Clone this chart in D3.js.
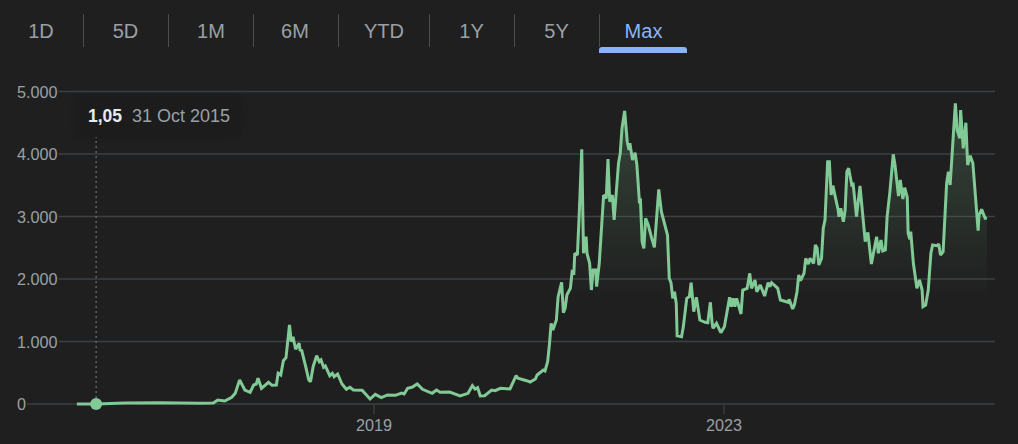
<!DOCTYPE html>
<html>
<head>
<meta charset="utf-8">
<script src="https://cdn.jsdelivr.net/npm/d3@7"></script>
<style>
  html, body { margin: 0; padding: 0; background: #1f1f1f; overflow: hidden; }
  svg { display: block; font-family: "Liberation Sans", Arial, sans-serif; }
</style>
</head>
<body>
<script>
var ranges = ["1D", "5D", "1M", "6M", "YTD", "1Y", "5Y", "Max"];
var activeRange = "Max";
var yTicks = [0, 1000, 2000, 3000, 4000, 5000];
var xTicks = [2019, 2023];
var hoverYear = 2015.83;
var hoverValue = 1.05;
var hoverDate = "31 Oct 2015";

// decimal years
var years = [2015.61,2015.83,2016.16,2016.56,2017.02,2017.17,2017.22,2017.30,2017.38,2017.42,2017.47,2017.53,2017.59,2017.63,2017.66,2017.68,2017.72,2017.80,2017.84,2017.89,2017.91,2017.94,2017.97,
  2018.00,2018.04,2018.06,2018.08,2018.11,2018.15,2018.16,2018.18,2018.23,2018.26,2018.28,2018.31,2018.35,2018.38,2018.40,2018.43,2018.45,2018.50,2018.53,2018.55,2018.59,2018.64,2018.69,2018.73,2018.77,2018.87,2018.96,
  2019.02,2019.09,2019.16,2019.25,2019.32,2019.35,2019.39,2019.44,2019.50,2019.56,2019.67,2019.72,2019.76,2019.87,2019.99,
  2020.08,2020.13,2020.16,2020.19,2020.22,2020.27,2020.35,2020.39,2020.45,2020.56,2020.63,2020.65,2020.75,2020.79,2020.85,2020.87,2020.94,2020.96,2020.99,
  2021.01,2021.03,2021.05,2021.09,2021.11,2021.15,2021.17,2021.19,2021.21,2021.25,2021.27,2021.29,2021.30,2021.33,2021.35,2021.38,2021.40,2021.43,2021.44,2021.47,2021.49,2021.51,2021.54,2021.55,2021.58,2021.63,2021.66,2021.68,2021.70,2021.73,2021.75,2021.80,2021.82,2021.84,2021.87,2021.90,2021.92,2021.93,2021.96,2021.99,
  2022.01,2022.04,2022.05,2022.07,2022.09,2022.11,2022.14,2022.18,2022.21,2022.26,2022.29,2022.36,2022.38,2022.40,2022.42,2022.44,2022.46,2022.47,2022.52,2022.54,2022.58,2022.61,2022.63,2022.66,2022.69,2022.73,2022.79,2022.82,2022.85,2022.87,2022.88,2022.92,2022.97,
  2023.01,2023.07,2023.09,2023.11,2023.13,2023.15,2023.20,2023.22,2023.27,2023.30,2023.32,2023.36,2023.38,2023.42,2023.47,2023.51,2023.53,2023.55,2023.62,2023.65,2023.74,2023.75,2023.79,2023.81,2023.84,2023.86,2023.88,2023.92,2023.94,2023.97,2023.99,
  2024.03,2024.05,2024.07,2024.09,2024.12,2024.14,2024.16,2024.19,2024.21,2024.23,2024.25,2024.31,2024.32,2024.34,2024.37,2024.39,2024.41,2024.43,2024.47,2024.48,2024.52,2024.56,2024.62,2024.65,2024.69,2024.75,2024.77,2024.80,2024.82,2024.85,2024.87,2024.90,2024.94,2024.96,
  2025.00,2025.02,2025.05,2025.07,2025.10,2025.11,2025.13,2025.14,2025.17,2025.21,2025.24,2025.27,2025.28,2025.31,2025.34,2025.37,2025.39,2025.44,2025.46,2025.48,2025.51,2025.55,2025.57,2025.59,2025.65,2025.67,2025.70,2025.71,2025.74,2025.77,2025.79,2025.82,2025.85,2025.91,2025.92,2025.95,2025.99,2026.01];

var prices = [1,1.05,16,21,11,16,64,48,107,171,384,224,187,304,320,411,251,347,299,304,491,464,693,
  741,1264,997,1077,875,971,864,853,571,384,357,597,773,677,704,587,608,453,491,437,480,320,235,267,224,219,80,
  155,101,144,139,176,160,251,267,320,235,171,224,187,192,128,
  171,293,240,261,128,133,224,213,251,240,453,411,373,352,400,464,544,528,677,
  944,1291,1184,1344,1717,1947,1461,1531,1744,1851,2117,2101,2411,2384,2997,4075,2411,2677,2411,2251,1824,2144,2144,1877,2251,3344,3291,3920,3237,3344,2944,3851,4011,4411,4688,4197,4064,4171,3904,4021,
  3824,3211,3291,2597,2491,2971,2864,2651,2507,3435,3077,2704,2011,1941,1691,1797,1611,1093,1077,1227,1691,1717,1941,1477,1707,1344,1307,1301,1627,1291,1211,1291,1141,
  1237,1707,1557,1691,1557,1691,1440,1824,1851,2091,1851,1984,1797,1904,1728,1941,1877,1941,1851,1664,1627,1675,1520,1584,1797,2064,1973,2091,2331,2240,2331,
  2251,2544,2491,2224,2331,2811,2944,3877,3877,3344,3493,3104,2997,3131,2917,3104,3717,3771,3477,3541,2997,3488,2597,2747,2240,2677,2411,2624,2448,2464,2997,3371,3995,3824,
  3328,3584,3280,3461,3307,2731,2635,2757,2251,1851,1984,1824,1557,1584,1824,2411,2544,2533,2560,2384,2437,3531,3717,3504,4811,4384,4251,4704,4091,4501,3824,3973,3851,2773,3024,3115,2971,2971];

var width = 1018, height = 444;
var lineColor = "#81c995", gridColor = "#3c4043", textColor = "#9aa0a6", blue = "#8ab4f8";

var x = d3.scaleLinear().domain([2019, 2023]).range([373.5, 723.5]);
var y = d3.scaleLinear().domain([0, 5000]).range([404, 91.5]);
var fmt = d3.formatLocale({ decimal: ",", thousands: ".", grouping: [3], currency: ["", ""] }).format(",d");

var svg = d3.select("body").append("svg").attr("width", width).attr("height", height);
var points = years.map(function (d, i) { return [d, prices[i]]; });

// range tabs
var tabs = d3.scaleOrdinal().domain(ranges).range([41, 125.5, 211, 295, 384, 471.5, 556.5, 643.5]);
var seps = d3.scaleOrdinal().domain(ranges.slice(1)).range([83.5, 168.5, 253.5, 338.5, 429.5, 514.5, 599.5]);

svg.selectAll(".sep").data(ranges.slice(1)).enter().append("line")
  .attr("class", "sep")
  .attr("x1", seps).attr("x2", seps)
  .attr("y1", 14).attr("y2", 47)
  .attr("stroke", "#4a4c4f");

svg.selectAll(".tab").data(ranges).enter().append("text")
  .attr("class", "tab")
  .attr("x", tabs).attr("y", 38)
  .attr("text-anchor", "middle")
  .attr("font-size", 20)
  .attr("fill", function (d) { return d === activeRange ? blue : textColor; })
  .text(function (d) { return d; });

svg.append("path")
  .attr("d", "M599,53 v-3 a3,3 0 0 1 3,-3 h82 a3,3 0 0 1 3,3 v3 z")
  .attr("fill", blue);

// grid and y labels
var yLabels = svg.selectAll(".ylab").data(yTicks).enter().append("text")
  .attr("class", "ylab")
  .attr("x", 17)
  .attr("y", function (d) { return y(d) + 6; })
  .attr("font-size", 16.2)
  .attr("fill", textColor)
  .text(function (d) { return fmt(d); });

yLabels.each(function (d) {
  var w = this.getComputedTextLength();
  svg.insert("line", ".ylab")
    .attr("x1", 17 + w + 1).attr("x2", 995)
    .attr("y1", y(d)).attr("y2", y(d))
    .attr("stroke", gridColor).attr("stroke-width", 1.6);
});

// x axis
var xAxis = svg.append("g")
  .attr("transform", "translate(0,404)")
  .call(d3.axisBottom(x).tickValues(xTicks).tickFormat(d3.format("d")).tickSize(10).tickPadding(5));
xAxis.select(".domain").remove();
xAxis.selectAll("line").attr("stroke", gridColor).attr("stroke-width", 1.3);
xAxis.selectAll("text")
  .attr("fill", textColor)
  .style("font-family", "'Liberation Sans', Arial, sans-serif")
  .style("font-size", "16.2px");

// area under the line
var defs = svg.append("defs");
var grad = defs.append("linearGradient")
  .attr("id", "fade")
  .attr("gradientUnits", "userSpaceOnUse")
  .attr("x1", 0).attr("x2", 0)
  .attr("y1", y(5000)).attr("y2", y(1700));
grad.append("stop").attr("offset", 0).attr("stop-color", lineColor).attr("stop-opacity", 0.24);
grad.append("stop").attr("offset", 1).attr("stop-color", lineColor).attr("stop-opacity", 0);

defs.append("filter")
  .attr("id", "halo")
  .attr("x", "-30%").attr("y", "-80%")
  .attr("width", "160%").attr("height", "260%")
  .append("feDropShadow")
  .attr("dx", 0).attr("dy", 0)
  .attr("stdDeviation", 7)
  .attr("flood-color", "#000")
  .attr("flood-opacity", 0.12);

svg.append("path")
  .datum(points)
  .attr("fill", "url(#fade)")
  .attr("d", d3.area()
    .x(function (d) { return x(d[0]); })
    .y0(y(0))
    .y1(function (d) { return y(d[1]); }));

svg.append("path")
  .datum(points)
  .attr("fill", "none")
  .attr("stroke", lineColor)
  .attr("stroke-width", 3)
  .attr("stroke-linejoin", "miter")
  .attr("stroke-miterlimit", 2)
  .attr("d", d3.line()
    .x(function (d) { return x(d[0]); })
    .y(function (d) { return y(d[1]); }));

// hover marker and tooltip
svg.append("line")
  .attr("x1", x(hoverYear)).attr("x2", x(hoverYear))
  .attr("y1", 136).attr("y2", y(hoverValue))
  .attr("stroke", "#6b6e72")
  .attr("stroke-width", 1.3)
  .attr("stroke-dasharray", "2,3");

svg.append("circle")
  .attr("cx", x(hoverYear)).attr("cy", y(hoverValue))
  .attr("r", 6)
  .attr("fill", lineColor);

svg.append("rect")
  .attr("x", 76).attr("y", 96)
  .attr("width", 166).attr("height", 41)
  .attr("rx", 2)
  .attr("fill", "#1e1e1e")
  .attr("filter", "url(#halo)");

svg.append("text")
  .attr("x", 88).attr("y", 122)
  .attr("font-size", 17.5).attr("font-weight", "bold")
  .attr("fill", "#e8eaed")
  .text(String(hoverValue).replace(".", ","));

svg.append("text")
  .attr("x", 132).attr("y", 122)
  .attr("font-size", 18)
  .attr("fill", textColor)
  .text(hoverDate);
</script>
</body>
</html>
